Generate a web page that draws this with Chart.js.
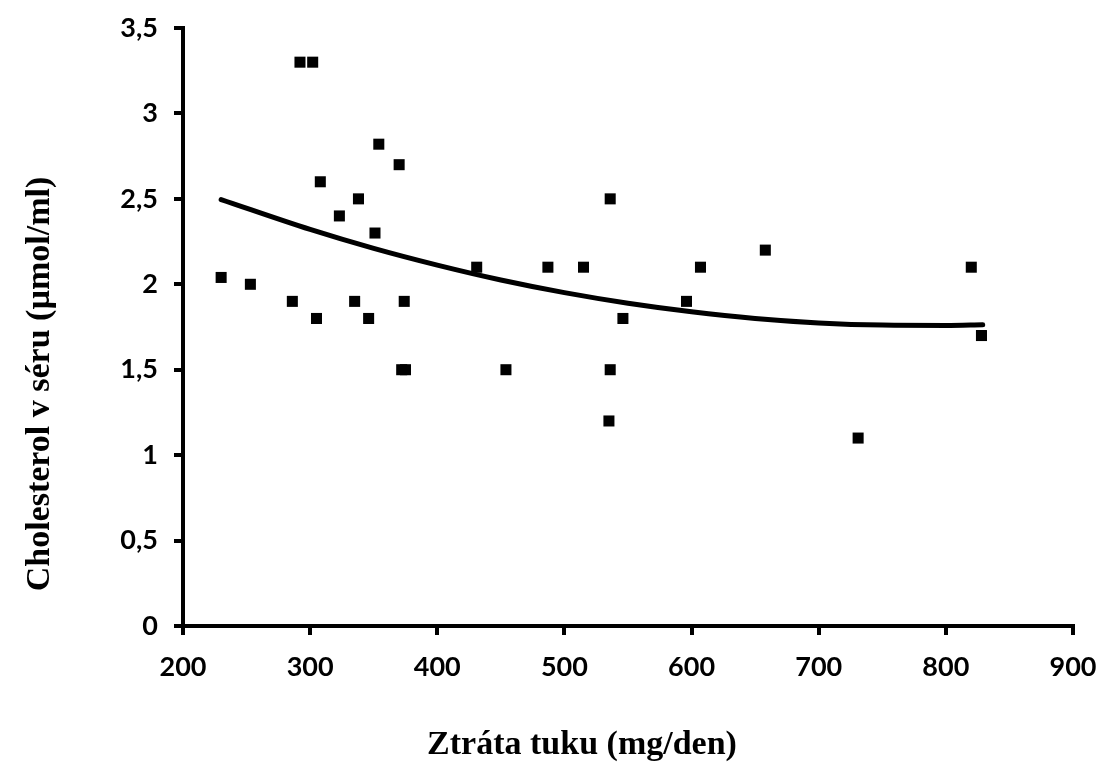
<!DOCTYPE html>
<html><head><meta charset="utf-8">
<script src="https://cdn.jsdelivr.net/npm/chart.js@4.4.0/dist/chart.umd.min.js"></script>
<style>html,body{margin:0;padding:0;background:#fff;} #wrap{width:1099px;height:762px;position:relative;}</style>
</head><body><div id="wrap"><canvas id="c" width="1099" height="762"></canvas></div>
<script>
// Scatter data: fat loss (mg/day) vs serum cholesterol (µmol/ml)
const fatLoss =     [230, 253, 286, 292, 302, 305, 308, 323, 335, 338, 346, 351, 354, 370, 374, 372, 375, 431, 454, 487, 515, 536, 536, 535, 546, 596, 607, 658, 731, 820, 828];
const cholesterol = [2.04, 2.0, 1.9, 3.3, 3.3, 1.8, 2.6, 2.4, 1.9, 2.5, 1.8, 2.3, 2.82, 2.7, 1.9, 1.5, 1.5, 2.1, 1.5, 2.1, 2.1, 2.5, 1.5, 1.2, 1.8, 1.9, 2.1, 2.2, 1.1, 2.1, 1.7];
// Trend curve
const trendX = [230, 300, 350, 400, 450, 500, 550, 600, 650, 700, 750, 800, 829];
const trendY = [2.496, 2.321, 2.210, 2.112, 2.025, 1.951, 1.889, 1.839, 1.800, 1.774, 1.761, 1.759, 1.763];
// Ticks
const xTickValues = [200, 300, 400, 500, 600, 700, 800, 900];
const xTickLabels = ['200', '300', '400', '500', '600', '700', '800', '900'];
const yTickValues = [0, 0.5, 1, 1.5, 2, 2.5, 3, 3.5];
const yTickLabels = ['0', '0,5', '1', '1,5', '2', '2,5', '3', '3,5'];
const xTitle = 'Ztráta tuku (mg/den)';
const yTitle = 'Cholesterol v séru (µmol/ml)';

const points = fatLoss.map((x, i) => ({x: x, y: cholesterol[i]}));
const trend = trendX.map((x, i) => ({x: x, y: trendY[i]}));

const titlePlugin = {
  id: 'axisTitles',
  afterDraw(chart) {
    const ctx = chart.ctx;
    ctx.save();
    ctx.fillStyle = '#000';
    ctx.font = 'bold 34px "Liberation Serif", "Times New Roman", serif';
    ctx.textAlign = 'center';
    ctx.textBaseline = 'middle';
    ctx.fillText(xTitle, 582, 745);
    ctx.translate(40, 384);
    ctx.rotate(-Math.PI / 2);
    ctx.fillText(yTitle, 0, 0);
    ctx.restore();
  }
};

const tickFont = {family: 'Lato', weight: 'bold', size: 27};

new Chart(document.getElementById('c'), {
  type: 'scatter',
  data: {
    datasets: [
      {
        data: trend,
        showLine: true,
        pointRadius: 0,
        borderColor: '#000',
        borderWidth: 5,
        borderCapStyle: 'round',
        cubicInterpolationMode: 'monotone',
        fill: false
      },
      {
        data: points,
        pointStyle: 'rect',
        pointRadius: 7.8,
        pointBackgroundColor: '#000',
        backgroundColor: '#000',
        borderWidth: 0,
        showLine: false
      }
    ]
  },
  options: {
    responsive: false,
    animation: false,
    layout: {padding: {left: 0, top: 28, right: 26, bottom: 0}},
    plugins: {legend: {display: false}, tooltip: {enabled: false}},
    scales: {
      x: {
        type: 'linear',
        min: 200, max: 900,
        afterBuildTicks: (s) => { s.ticks = xTickValues.map(v => ({value: v})); },
        afterFit: (s) => { s.height = 136; s.paddingLeft = 0; s.paddingRight = 0; },
        ticks: {
          color: '#000', font: tickFont, padding: 16, maxRotation: 0,
          callback: (v, i) => xTickLabels[i]
        },
        grid: {display: true, drawOnChartArea: false, drawTicks: true, tickLength: 9, tickWidth: 4, lineWidth: 4, color: '#000', tickColor: '#000'},
        border: {display: true, color: '#000', width: 4}
      },
      y: {
        type: 'linear',
        min: 0, max: 3.5,
        afterBuildTicks: (s) => { s.ticks = yTickValues.map(v => ({value: v})); },
        afterFit: (s) => { s.width = 183; s.paddingTop = 0; s.paddingBottom = 0; },
        ticks: {
          color: '#000', font: tickFont, padding: 16,
          callback: (v, i) => yTickLabels[i]
        },
        grid: {display: true, drawOnChartArea: false, drawTicks: true, tickLength: 9, tickWidth: 4, lineWidth: 4, color: '#000', tickColor: '#000'},
        border: {display: true, color: '#000', width: 4}
      }
    }
  },
  plugins: [titlePlugin]
});
</script>
</body></html>
